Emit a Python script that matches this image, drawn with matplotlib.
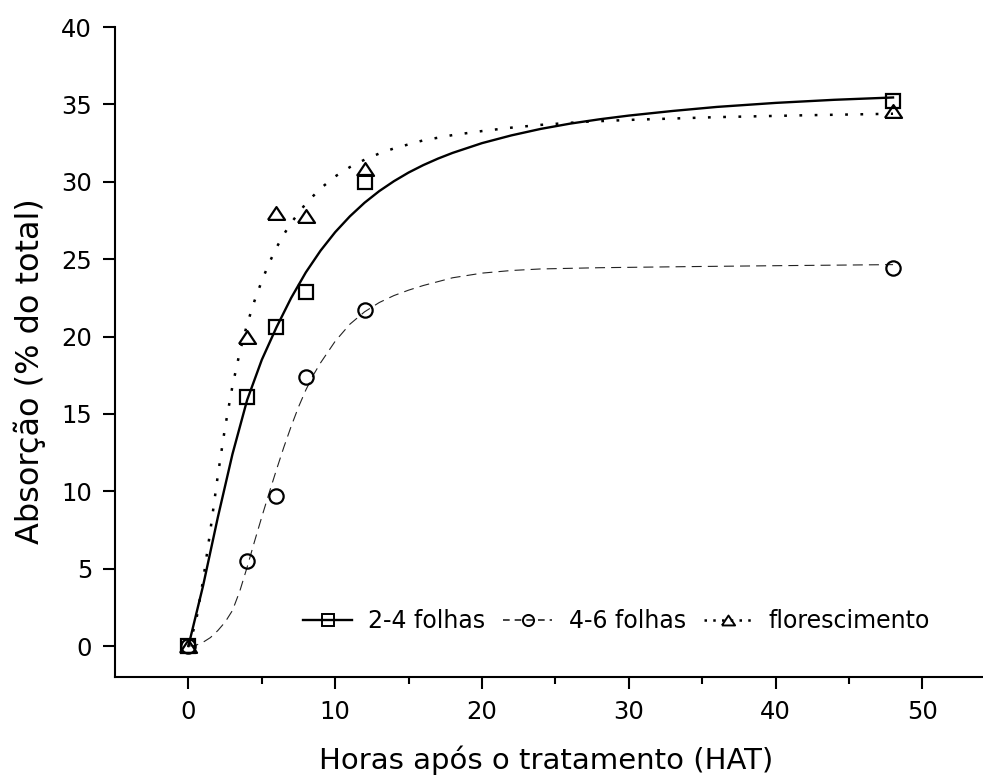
import matplotlib
matplotlib.use("Agg")
import matplotlib.pyplot as plt
from matplotlib.lines import Line2D

plt.rcParams['font.family'] = ['DejaVu Sans']

# measured points (hours after treatment, % of total)
hours = [0, 4, 6, 8, 12, 48]
folhas_24 = [0, 16.1, 20.6, 22.9, 30.0, 35.2]
folhas_46 = [0, 5.5, 9.7, 17.4, 21.7, 24.4]
floresc = [0, 20.0, 28.0, 27.8, 30.8, 34.6]

# fitted curves
fit_x_24 = [0, 1, 2, 3, 4, 5, 6, 7, 8, 9, 10, 11, 12, 13, 14, 15, 16, 17, 18, 20, 22, 24, 26, 28, 30,
            33, 36, 40, 44, 48]
fit_y_24 = [0, 3.9, 8.3, 12.4, 15.9, 18.5, 20.6, 22.5, 24.15, 25.55, 26.75, 27.77, 28.65, 29.4, 30.04,
            30.6, 31.08, 31.5, 31.87, 32.5, 33.0, 33.42, 33.76, 34.04, 34.28, 34.58, 34.84, 35.1, 35.3, 35.45]

fit_x_46 = [0, 0.5, 1, 1.5, 2, 2.5, 3, 3.5, 4, 4.5, 5, 5.5, 6, 6.5, 7, 7.5, 8, 8.5, 9, 10, 11, 12, 13,
            14, 15, 16, 18, 20, 22, 24, 28, 34, 40, 48]
fit_y_46 = [0, 0.05, 0.25, 0.55, 1.0, 1.55, 2.3, 3.55, 5.1, 6.75, 8.35, 9.9, 11.4, 12.85, 14.2, 15.45,
            16.55, 17.5, 18.3, 19.7, 20.8, 21.6, 22.2, 22.65, 23.0, 23.3, 23.8, 24.1, 24.27, 24.37, 24.45,
            24.52, 24.58, 24.65]

fit_x_fl = [0, 0.5, 1, 1.5, 2, 2.5, 3, 3.5, 4, 4.5, 5, 5.5, 6, 6.5, 7, 8, 9, 10, 11, 12, 13, 14, 16, 18,
            20, 22, 24, 27, 30, 36, 42, 48]
fit_y_fl = [0, 1.5, 4.25, 7.5, 11.0, 14.15, 16.8, 19.0, 20.8, 22.3, 23.6, 24.75, 25.75, 26.6, 27.35,
            28.6, 29.57, 30.35, 30.95, 31.43, 31.83, 32.16, 32.68, 33.02, 33.28, 33.5, 33.68, 33.88, 34.0,
            34.18, 34.3, 34.4]

labels = ['2-4 folhas', '4-6 folhas', 'florescimento']

fig = plt.figure(figsize=(9.83, 7.8), dpi=100)
ax = fig.add_axes([0.117, 0.132, 0.896, 0.8333])

tri = [(-1, -0.75), (1, -0.75), (0, 0.75), (-1, -0.75)]
dash_ls = (0, (9, 5.5))
dot_ls = (0, (1.1, 5.0))

ax.plot(fit_x_24, fit_y_24, color='black', lw=1.7, ls='-')
ax.plot(fit_x_46, fit_y_46, color='#222222', lw=0.8, ls=dash_ls)
ax.plot(fit_x_fl, fit_y_fl, color='black', lw=1.8, ls=dot_ls)

ax.plot(hours, folhas_24, ls='none', marker='s', ms=9.8, mfc='none', mec='black', mew=1.6)
ax.plot(hours, folhas_46, ls='none', marker='o', ms=10.3, mfc='none', mec='black', mew=1.6)
ax.plot(hours, floresc, ls='none', marker=tri, ms=12.3, mfc='none', mec='black', mew=1.6)

ax.set_xlim(-5, 55)
ax.set_ylim(-2, 40)
ax.set_xticks([0, 10, 20, 30, 40, 50])
ax.set_xticks([5, 15, 25, 35, 45], minor=True)
ax.set_yticks(range(0, 41, 5))

for s in ['top', 'right']:
    ax.spines[s].set_visible(False)
for s in ['left', 'bottom']:
    ax.spines[s].set_linewidth(1.5)

ax.tick_params(axis='both', which='major', length=8.5, width=1.5, labelsize=17.5, direction='out')
ax.tick_params(axis='x', which='minor', length=5, width=1.5, direction='out')
ax.tick_params(axis='x', which='major', pad=8)
ax.tick_params(axis='y', which='major', pad=8)

ax.set_xlabel('Horas após o tratamento (HAT)', fontsize=21)
ax.xaxis.set_label_coords(0.489, -0.106)
ax.set_ylabel('Absorção (% do total)', fontsize=23)
ax.yaxis.set_label_coords(-0.078, 0.47)

handles = [
    Line2D([], [], color='black', lw=1.7, ls='-', marker='s', ms=8, mfc='none', mec='black', mew=1.4),
    Line2D([], [], color='#222222', lw=1.2, ls=(0, (4, 3)), marker='o', ms=8, mfc='none', mec='black', mew=1.4),
    Line2D([], [], color='black', lw=1.8, ls=(0, (1, 2.5)), marker=tri, ms=9.5, mfc='none', mec='black', mew=1.4),
]
ax.legend(handles, labels, ncol=3, frameon=False, fontsize=17, loc='center left',
          bbox_to_anchor=(0.2136, 0.086), borderpad=0, borderaxespad=0,
          handlelength=2.08, handletextpad=0.68, columnspacing=0.76, numpoints=1)

fig.savefig('out.png', dpi=100)
